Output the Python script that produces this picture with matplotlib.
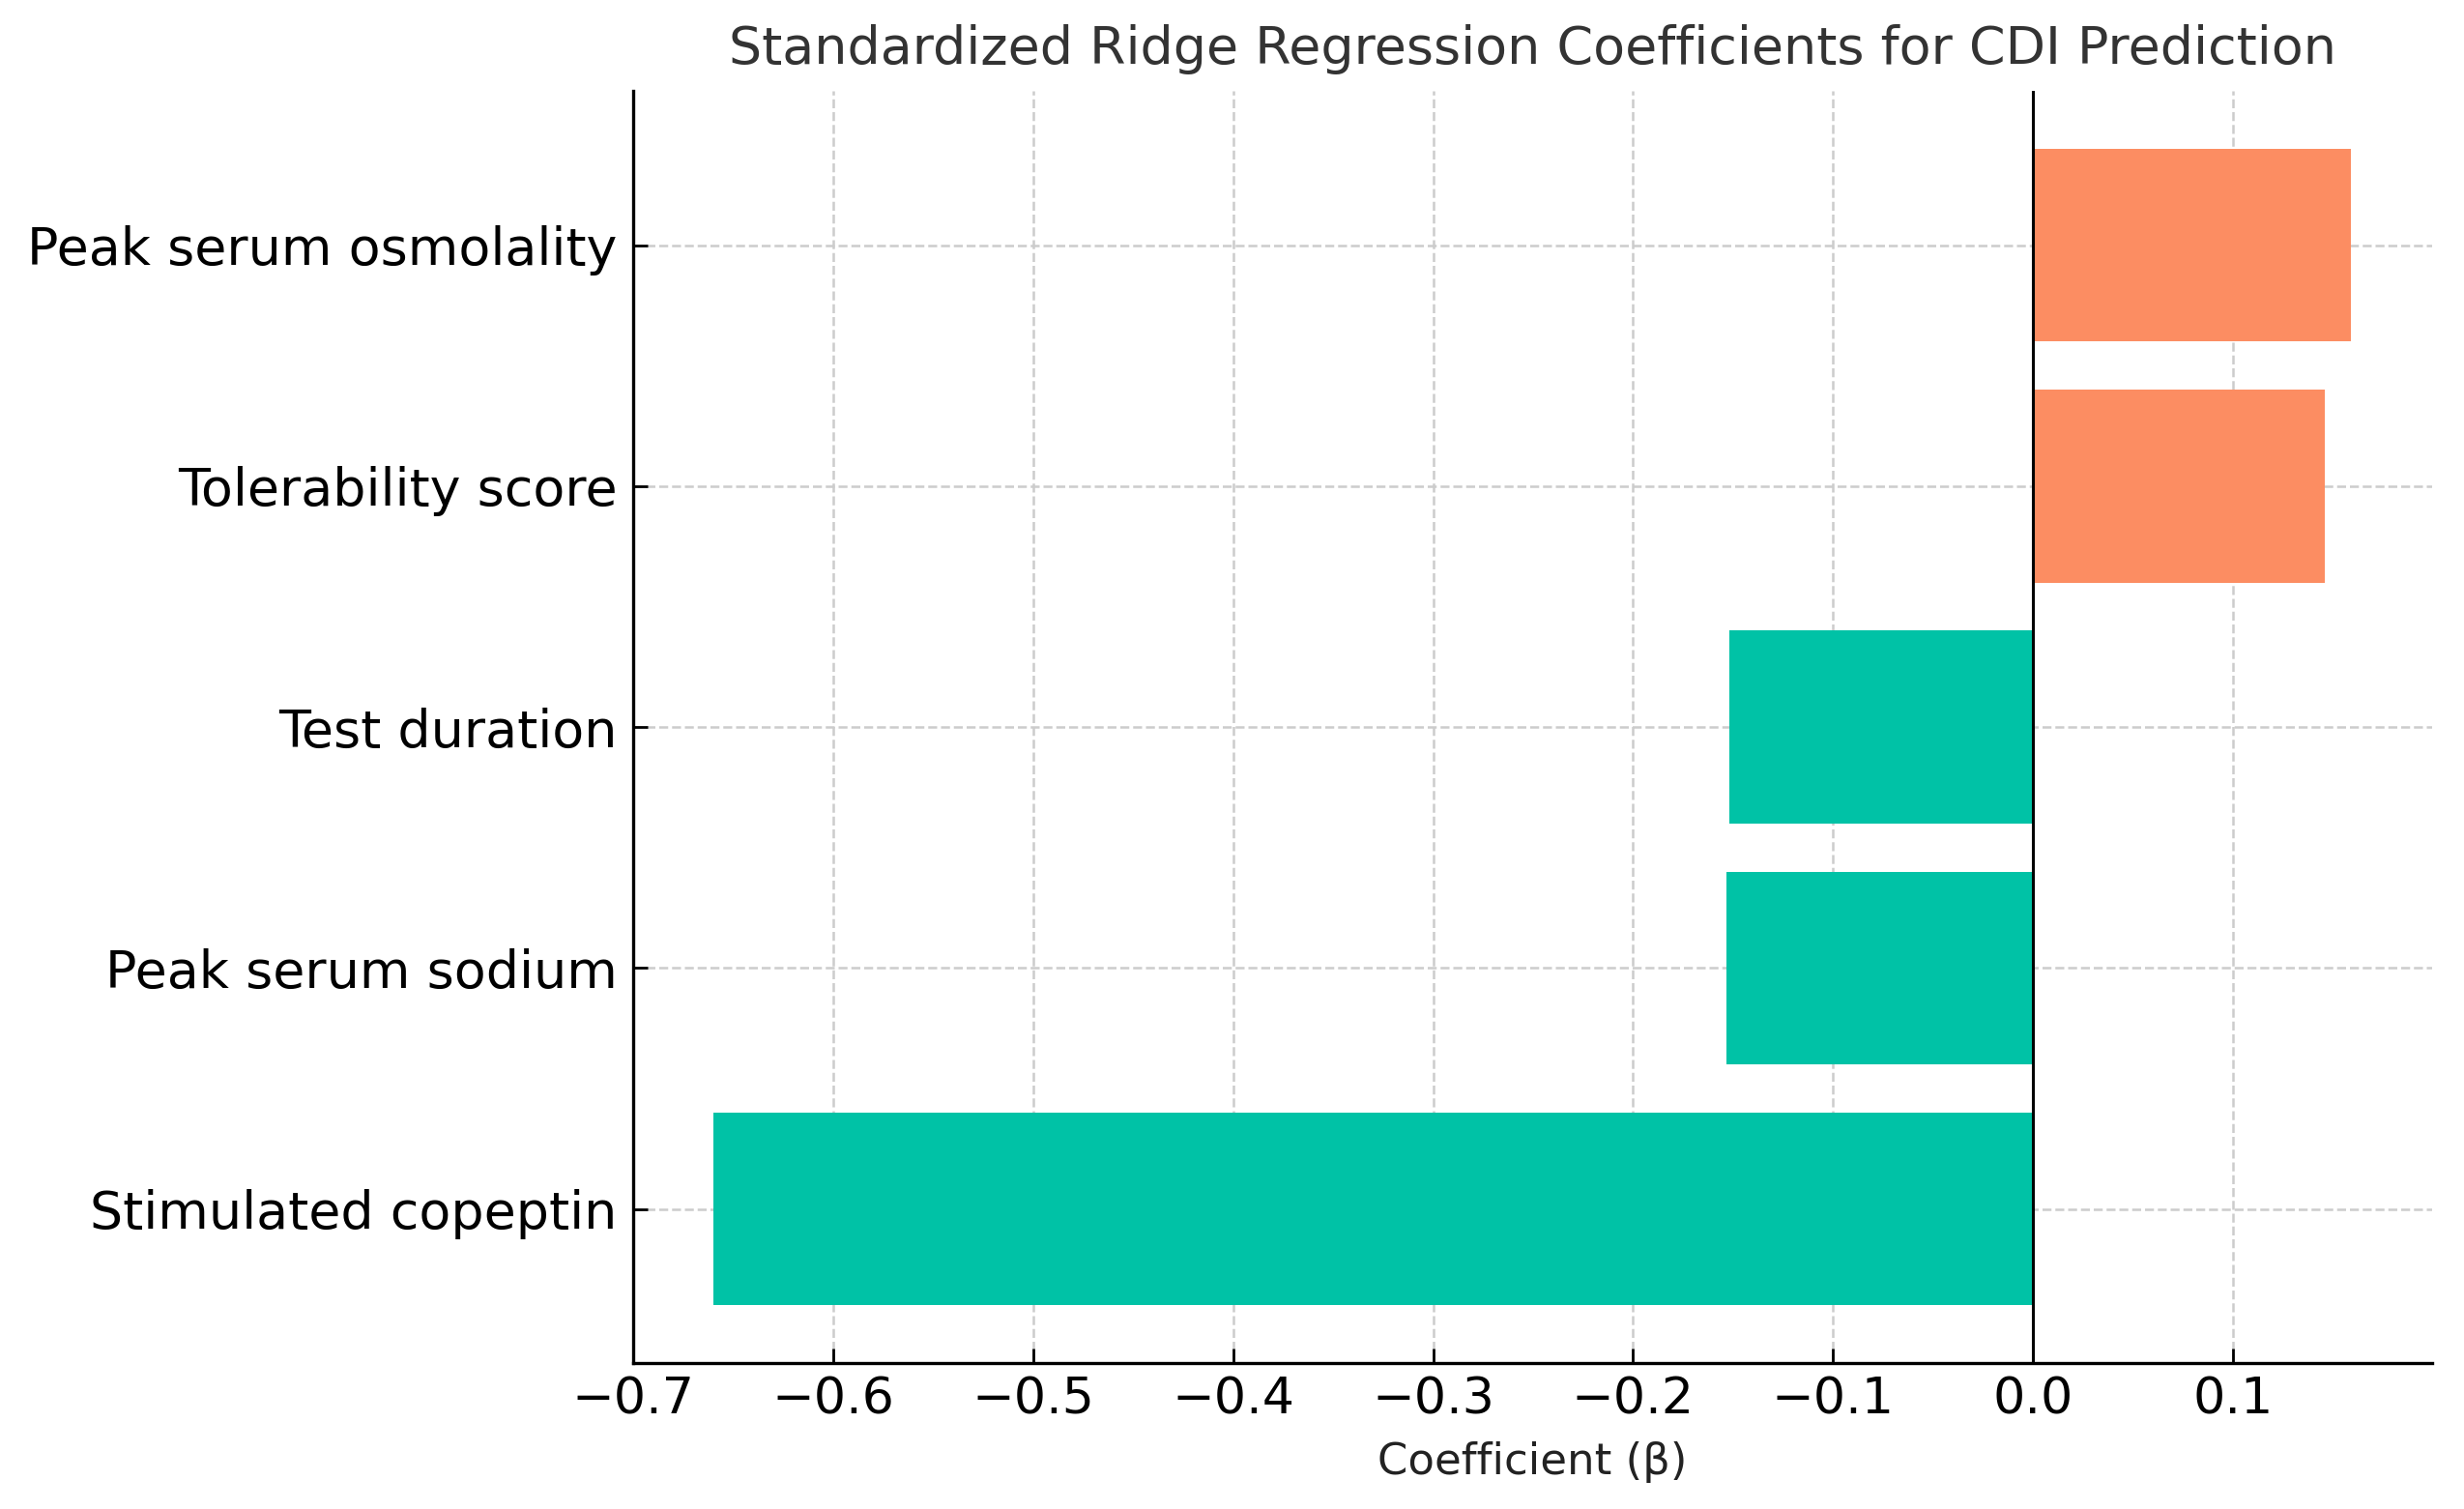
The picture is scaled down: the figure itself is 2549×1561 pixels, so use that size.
import matplotlib
matplotlib.use("Agg")
import matplotlib.pyplot as plt
from matplotlib.ticker import MultipleLocator

features = ["Stimulated copeptin", "Peak serum sodium", "Test duration",
            "Tolerability score", "Peak serum osmolality"]
coefs = [-0.660, -0.1535, -0.152, 0.146, 0.159]

pos_color = "#FC8D62"
neg_color = "#00C2A6"
colors = [pos_color if c > 0 else neg_color for c in coefs]

fig = plt.figure(figsize=(2549/200, 1561/200), dpi=200)
ax = fig.add_axes([0.257, 0.0967, 0.730, 0.843])

ax.barh(features, coefs, color=colors, height=0.8, zorder=2)
ax.axvline(0, color="black", linewidth=1.1, zorder=3)

ax.xaxis.set_major_locator(MultipleLocator(0.1))
ax.set_xlim(-0.7, 0.1995)

ax.grid(True, linestyle="--", color="#cccccc", linewidth=0.9, zorder=0)
ax.set_axisbelow(True)
ax.spines["top"].set_visible(False)
ax.spines["right"].set_visible(False)
for s in ("left", "bottom"):
    ax.spines[s].set_linewidth(1.2)

ax.tick_params(axis="y", labelsize=19.4, direction="in", length=5.4, width=1.0, pad=6)
ax.tick_params(axis="x", labelsize=18.8, direction="in", length=5.4, width=1.0, pad=5)
ax.set_xlabel("Coefficient (β)", fontsize=16.2, color="#222222", labelpad=6)
ax.set_title("Standardized Ridge Regression Coefficients for CDI Prediction",
             fontsize=19.4, color="#333333", pad=10)

fig.savefig("out.png", dpi=200)
